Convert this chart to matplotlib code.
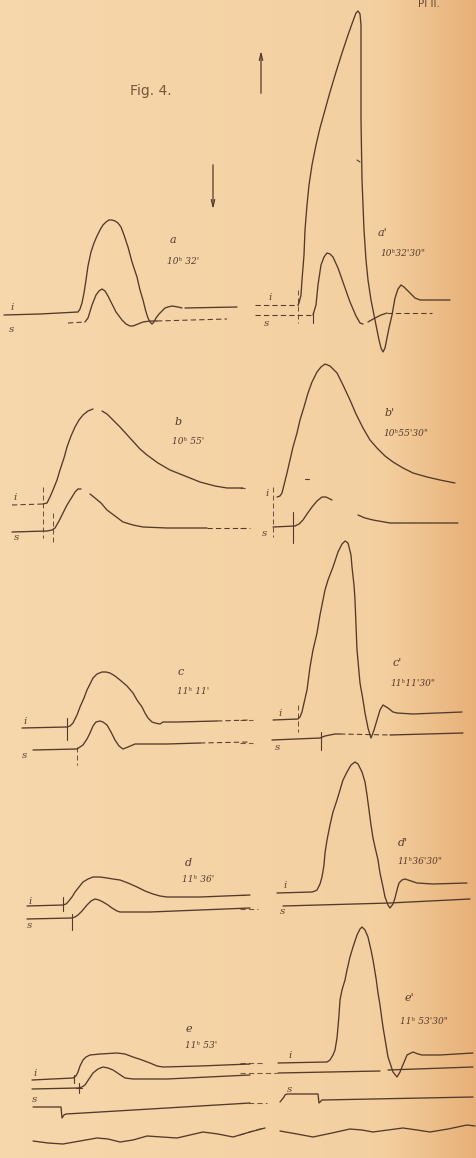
import numpy as np
import matplotlib.pyplot as plt

# --- traces (pixel coordinates, y downwards) ---
# panel a
a_i = [(4, 315), (40, 314), (78, 312), (80, 309), (82, 303), (84, 293), (86, 280), (88, 266),
       (91, 252), (94, 243), (97, 236), (100, 230), (103, 225), (106, 222), (109, 220),
       (112, 220), (115, 221), (118, 223), (121, 227), (124, 235), (128, 247),
       (132, 262), (137, 277), (140, 290), (143, 300), (146, 312), (148, 318), (150, 322),
       (152, 324), (154, 322), (156, 318), (159, 314), (162, 311), (165, 308), (168, 307),
       (172, 306), (178, 307), (182, 308)]
a_i_tail = [(185, 308), (237, 307)]
a_s_head = [(68, 323), (85, 322)]
a_s = [(85, 322), (88, 318), (92, 305), (96, 295), (99, 291), (102, 289), (105, 291),
       (108, 296), (111, 302), (116, 312), (122, 320), (126, 324), (130, 326), (133, 326),
       (138, 324), (143, 322), (150, 321), (157, 321)]
a_s_tail = [(157, 321), (227, 319)]

# panel a'
ap_i_head = [(255, 305), (298, 305)]
ap_i = [(298, 305), (299, 303), (301, 295), (302, 280), (304, 255), (305, 230), (307, 205),
        (309, 185), (312, 165), (316, 145), (320, 128), (325, 110), (330, 92), (336, 72),
        (342, 53), (348, 35), (353, 21), (356, 13), (358, 11), (360, 14), (361, 25),
        (361, 60), (361, 120), (362, 180), (364, 230), (366, 260), (368, 280), (371, 300),
        (375, 320), (379, 340), (381, 348), (383, 352), (385, 348), (387, 338), (389, 328),
        (392, 315), (395, 298), (398, 289), (401, 285), (404, 287), (410, 293), (415, 298),
        (420, 300), (450, 300)]
ap_s_head = [(255, 315), (313, 315)]
ap_s = [(313, 315), (316, 305), (318, 285), (321, 265), (324, 257), (327, 253), (330, 254),
        (333, 257), (338, 268), (344, 285), (350, 302), (356, 316), (360, 323), (363, 324)]
ap_s_mid = [(368, 322), (375, 318), (381, 315), (387, 313)]
ap_s_tail = [(387, 313), (432, 313)]

# panel b
b_i_head = [(12, 505), (43, 504)]
b_i = [(43, 504), (47, 503), (50, 497), (53, 490), (57, 480), (60, 470), (64, 458), (67, 447),
       (71, 436), (75, 427), (79, 420), (83, 415), (88, 411), (93, 409)]
b_i_tail = [(102, 411), (107, 414), (113, 420), (120, 427), (130, 438), (140, 449), (147, 455),
            (158, 463), (170, 470), (185, 476), (200, 482), (215, 486), (227, 488), (243, 488)]
b_s = [(12, 532), (47, 531), (52, 530), (55, 528), (59, 521), (63, 513), (67, 505), (72, 497),
       (75, 492), (78, 489), (81, 489)]
b_s_tail = [(90, 494), (95, 498), (101, 503), (107, 510), (115, 516), (123, 522), (133, 525),
            (143, 527), (167, 528), (207, 528)]
b_s_end = [(207, 528), (250, 528)]

# panel b'
bp_i = [(277, 497), (280, 496), (282, 493), (284, 485), (287, 473), (290, 460), (293, 447),
        (297, 433), (300, 420), (304, 407), (308, 393), (312, 382), (317, 372), (321, 367),
        (325, 364), (330, 366), (337, 373), (343, 385), (350, 400), (356, 414), (363, 428),
        (370, 440), (377, 448), (385, 456), (393, 462), (403, 468), (413, 473), (427, 477),
        (440, 480), (455, 483)]
bp_s = [(273, 527), (295, 526), (299, 524), (303, 520), (307, 514), (312, 507), (317, 501),
        (322, 497), (326, 497), (332, 500)]
bp_s_tail = [(358, 515), (365, 518), (373, 520), (390, 523), (423, 523), (458, 523)]

# panel c
c_i = [(22, 728), (67, 727), (70, 726), (73, 723), (77, 715), (80, 707), (84, 698), (87, 690),
       (90, 684), (93, 678), (97, 674), (102, 672), (106, 672), (110, 673), (115, 676),
       (120, 680), (127, 686), (133, 693), (137, 700), (142, 707), (145, 713), (148, 718),
       (152, 722), (155, 723), (160, 724), (163, 722), (165, 722), (177, 722), (217, 721)]
c_i_tail = [(217, 721), (250, 720)]
c_s = [(33, 750), (77, 749), (80, 747), (83, 745), (87, 739), (90, 733), (93, 726), (96, 722),
       (100, 721), (103, 722), (107, 725), (111, 732), (115, 740), (119, 746), (123, 749),
       (128, 747), (135, 744), (167, 744), (200, 743)]
c_s_tail = [(200, 743), (250, 742)]

# panel c'
cp_i = [(273, 720), (298, 719), (300, 717), (302, 712), (304, 703), (307, 690), (310, 667),
        (313, 650), (317, 633), (320, 615), (323, 600), (325, 590), (328, 580), (333, 567),
        (338, 552), (342, 544), (345, 541), (348, 543), (351, 555), (352, 567), (354, 585),
        (355, 600), (357, 650), (360, 683), (363, 700), (365, 713), (368, 728), (371, 738),
        (374, 730), (377, 720), (380, 710), (383, 705), (388, 708), (393, 712), (397, 713),
        (413, 714), (462, 712)]
cp_s = [(272, 740), (320, 738), (325, 736), (330, 735), (335, 734), (340, 734)]
cp_s_mid = [(340, 734), (390, 735)]
cp_s_tail = [(390, 735), (463, 733)]

# panel d
d_i = [(27, 906), (63, 905), (66, 904), (68, 902), (72, 897), (75, 892), (79, 887), (83, 882),
       (88, 879), (93, 877), (100, 877), (107, 878), (113, 879), (120, 880), (128, 883),
       (137, 887), (145, 891), (153, 894), (160, 896), (167, 897), (200, 897), (250, 895)]
d_s = [(27, 919), (72, 918), (75, 917), (78, 915), (82, 911), (87, 905), (91, 901), (95, 899),
       (99, 900), (103, 902), (108, 905), (112, 908), (117, 911), (120, 912), (150, 912),
       (200, 910), (250, 908)]

# panel d'
dp_i = [(277, 893), (312, 892), (315, 891), (317, 890), (320, 884), (322, 877), (324, 865),
        (325, 853), (327, 840), (330, 825), (333, 812), (337, 800), (340, 790), (343, 780),
        (347, 772), (351, 765), (355, 762), (358, 764), (362, 772), (365, 782), (367, 795),
        (369, 810), (371, 825), (373, 838), (375, 847), (378, 860), (380, 873), (383, 887),
        (385, 897), (388, 905), (390, 908), (393, 904), (395, 898), (397, 890), (399, 883),
        (402, 880), (405, 879), (411, 881), (417, 883), (433, 884), (467, 883)]
dp_s = [(283, 906), (390, 903), (470, 899)]

# panel e
e_i = [(32, 1080), (73, 1078), (76, 1076), (78, 1072), (80, 1066), (83, 1060), (86, 1057),
       (90, 1055), (100, 1054), (117, 1053), (125, 1054), (133, 1057), (142, 1060),
       (150, 1063), (157, 1066), (163, 1067), (200, 1066), (250, 1064)]
e_s = [(32, 1089), (78, 1088), (82, 1087), (85, 1085), (89, 1079), (93, 1073), (98, 1069),
       (103, 1067), (108, 1068), (113, 1070), (119, 1074), (125, 1078), (133, 1079),
       (167, 1079), (250, 1075)]
e_sig = [(33, 1107), (60, 1107), (61, 1107), (62, 1118), (64, 1115), (66, 1114), (100, 1112),
         (167, 1108), (250, 1103)]
e_wave = [(33, 1141), (48, 1143), (63, 1144), (80, 1141), (97, 1138), (108, 1139), (120, 1142),
          (133, 1140), (147, 1136), (162, 1137), (177, 1138), (190, 1135), (203, 1132),
          (218, 1134), (233, 1137), (250, 1132), (265, 1128)]

# panel e'
ep_i = [(278, 1063), (327, 1062), (330, 1060), (333, 1055), (335, 1050), (337, 1038),
        (338, 1027), (339, 1015), (340, 1000), (342, 990), (345, 980), (347, 970), (350, 957),
        (353, 947), (357, 935), (360, 929), (362, 927), (365, 930), (368, 937), (371, 950),
        (373, 960), (376, 978), (378, 993), (380, 1005), (382, 1020), (383, 1027),
        (386, 1045), (388, 1057), (391, 1066), (393, 1072), (397, 1077), (400, 1072),
        (402, 1067), (405, 1060), (407, 1055), (413, 1052), (418, 1054), (422, 1055),
        (440, 1055), (473, 1053)]
ep_s = [(278, 1073), (380, 1071)]
ep_s_tail = [(388, 1070), (473, 1067)]
ep_sig = [(280, 1102), (284, 1097), (285, 1095), (287, 1094), (318, 1094), (319, 1103),
          (322, 1100), (373, 1099), (473, 1097)]
ep_wave = [(280, 1131), (297, 1134), (313, 1137), (332, 1133), (350, 1129), (362, 1130),
           (373, 1132), (388, 1130), (403, 1128), (417, 1130), (430, 1132), (448, 1129),
           (467, 1125), (475, 1126)]

# dashed continuations on the left of the right-hand column
left_dashes = [[(240, 488), (246, 488)], [(240, 528), (246, 528)], [(240, 720), (253, 720)],
               [(240, 743), (253, 743)], [(240, 895), (247, 895)], [(240, 909), (258, 909)],
               [(240, 1063), (265, 1063)], [(240, 1073), (277, 1073)],
               [(240, 1103), (267, 1103)], [(240, 1135), (263, 1128)]]

# small vertical marks (solid / dashed)
ticks_solid = [[(313, 312), (313, 323)], [(293, 512), (293, 543)], [(67, 718), (67, 740)],
               [(321, 732), (321, 750)], [(63, 897), (63, 911)], [(72, 914), (72, 930)],
               [(74, 1075), (74, 1083)], [(79, 1083), (79, 1093)], [(76, 1088), (82, 1088)],
               [(357, 160), (360, 162)], [(305, 479), (309, 479)]]
ticks_dashed = [[(298, 290), (298, 323)], [(43, 487), (43, 538)], [(53, 513), (53, 543)],
                [(273, 487), (273, 537)], [(77, 747), (77, 765)], [(298, 705), (298, 732)]]

# labels
panel_letters = [("a", 170, 240), ("a'", 378, 233), ("b", 175, 422), ("b'", 385, 413),
                 ("c", 178, 672), ("c'", 393, 663), ("d", 185, 863), ("d'", 398, 843),
                 ("e", 186, 1029), ("e'", 405, 998)]
times = [("10ʰ 32'", 167, 261), ("10ʰ32'30\"", 380, 254), ("10ʰ 55'", 172, 442),
         ("10ʰ55'30\"", 383, 434), ("11ʰ 11'", 177, 692), ("11ʰ11'30\"", 390, 684),
         ("11ʰ 36'", 182, 880), ("11ʰ36'30\"", 397, 862), ("11ʰ 53'", 185, 1046),
         ("11ʰ 53'30\"", 400, 1022)]
trace_labels = [("i", 12, 308), ("s", 12, 330), ("i", 270, 298), ("s", 267, 324),
                ("i", 15, 498), ("s", 17, 538), ("i", 267, 493), ("s", 265, 534),
                ("i", 25, 722), ("s", 25, 756), ("i", 280, 714), ("s", 278, 747),
                ("i", 30, 901), ("s", 30, 926), ("i", 285, 885), ("s", 283, 912),
                ("i", 35, 1074), ("s", 35, 1099), ("i", 290, 1055), ("s", 290, 1089)]

INK = '#55392a'

fig = plt.figure(figsize=(4.77, 11.58), dpi=100)
ax = fig.add_axes([0, 0, 1, 1])
ax.set_xlim(0, 477)
ax.set_ylim(1158, 0)
ax.axis('off')

# paper tone: light peach, darker towards the binding on the right
xs = np.linspace(0, 1, 477)
left_c = np.array([0.965, 0.845, 0.675])
mid_c = np.array([0.955, 0.815, 0.630])
right_c = np.array([0.905, 0.690, 0.470])
w = np.clip((xs - 0.80) / 0.20, 0, 1)[:, None]
base = left_c + (mid_c - left_c) * np.clip(xs / 0.8, 0, 1)[:, None]
row = base * (1 - w) + right_c * w
img = np.repeat(row[None, :, :], 2, axis=0)
ax.imshow(img, extent=(0, 477, 1158, 0), aspect='auto', zorder=0)


def draw(pts, ls='-', lw=0.95, color=INK, alpha=1.0):
    p = np.array(pts, dtype=float)
    if ls == '--':
        ax.plot(p[:, 0], p[:, 1], color=color, lw=lw * 0.8, alpha=alpha,
                linestyle=(0, (5, 3)), solid_capstyle='round', zorder=2)
    else:
        ax.plot(p[:, 0], p[:, 1], color=color, lw=lw, alpha=alpha,
                solid_joinstyle='round', solid_capstyle='round', zorder=2)


for tr in [a_i, a_i_tail, a_s, ap_i, ap_s, ap_s_mid, b_i, b_i_tail, b_s, b_s_tail,
           bp_i, bp_s, bp_s_tail, c_i, c_s, cp_i, cp_s, cp_s_tail, d_i, d_s, dp_i, dp_s,
           e_i, e_s, e_sig, e_wave, ep_i, ep_s, ep_s_tail, ep_sig, ep_wave]:
    draw(tr)
for tr in [a_s_head, a_s_tail, ap_i_head, ap_s_head, ap_s_tail, b_i_head, b_s_end,
           c_i_tail, c_s_tail, cp_s_mid]:
    draw(tr, ls='--')
for tr in left_dashes:
    draw(tr, ls='--', alpha=0.8)
for tr in ticks_solid:
    draw(tr, lw=0.8)
for tr in ticks_dashed:
    draw(tr, ls='--', lw=0.9, alpha=0.85)

# the two direction arrows
ax.annotate('', xy=(261, 48), xytext=(261, 96),
            arrowprops=dict(arrowstyle='->,head_length=0.5,head_width=0.12',
                            color=INK, lw=0.9))
ax.annotate('', xy=(213, 212), xytext=(213, 162),
            arrowprops=dict(arrowstyle='->,head_length=0.5,head_width=0.12',
                            color=INK, lw=0.9))

serif = ['DejaVu Serif', 'DejaVu Sans']
for txt, x, y in panel_letters:
    ax.text(x, y, txt, fontsize=8, family=serif, style='italic', color=INK,
            ha='left', va='center')
for txt, x, y in times:
    ax.text(x, y, txt, fontsize=6.5, family=serif, style='italic', color=INK,
            ha='left', va='center')
for txt, x, y in trace_labels:
    ax.text(x, y, txt, fontsize=7.5, family=serif, style='italic', color='#6a4030',
            ha='center', va='center')

ax.text(130, 91, "Fig. 4.", fontsize=10, family='DejaVu Sans', color='#7a5538',
        ha='left', va='center')
ax.text(418, 4, "Pl II.", fontsize=7.5, family='DejaVu Sans', color='#6a4a35',
        ha='left', va='center')

fig.savefig('out.png', dpi=100)
